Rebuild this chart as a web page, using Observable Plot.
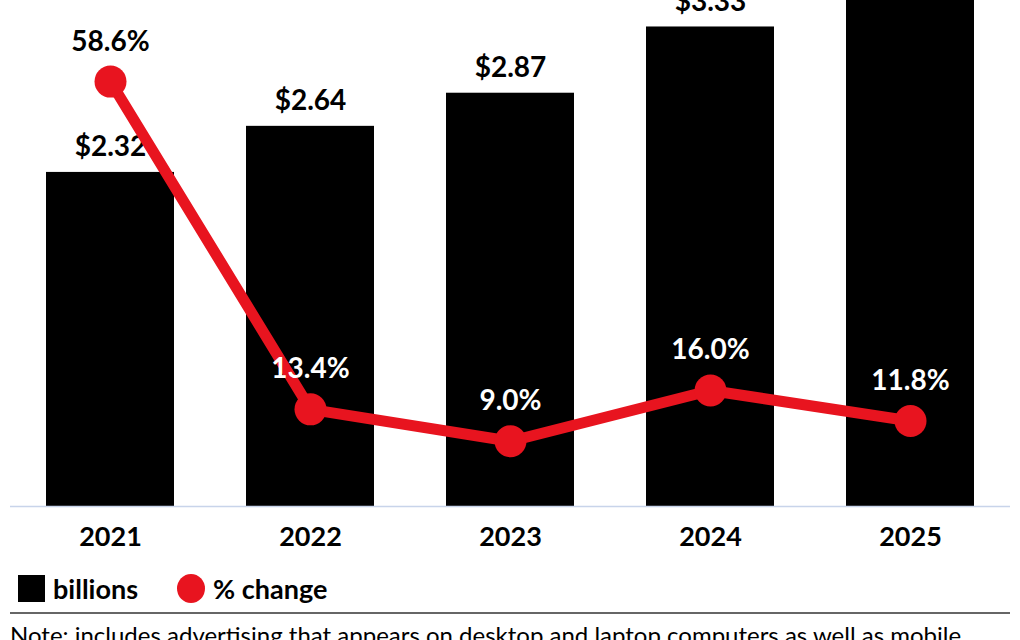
<!DOCTYPE html>
<html>
<head>
<meta charset="utf-8">
<script src="https://cdn.jsdelivr.net/npm/d3@7"></script>
<script src="https://cdn.jsdelivr.net/npm/@observablehq/plot@0.6"></script>
<style>
  html, body { margin: 0; padding: 0; background: #fff; }
  body { width: 1020px; height: 640px; overflow: hidden; font-family: Lato, "Open Sans", sans-serif; }
  #chart svg { display: block; }
  .legend { display: flex; align-items: center; height: 30px; margin-top: 13px; padding-left: 18px; font-family: Lato, sans-serif; font-weight: 700; font-size: 27px; color: #000; }
  .legend .sw { width: 27px; height: 27px; background: #000; margin-right: 8px; }
  .legend .dot { width: 28px; height: 29px; border-radius: 50%; background: #e8141f; margin-left: 39px; margin-right: 8px; }
  .rule { margin: 9px 10px 0 10px; height: 2px; background: #666; }
  .note { padding: 6px 0 0 10px; font-family: Lato, sans-serif; font-size: 24px; color: #000; white-space: nowrap; }
</style>
</head>
<body>
<div id="chart"></div>
<div class="legend"><span class="sw"></span><span>billions</span><span class="dot"></span><span>% change</span></div>
<div class="rule"></div>
<div class="note">Note: includes advertising that appears on desktop and laptop computers as well as mobile</div>
<script>
const years = ["2021", "2022", "2023", "2024", "2025"];
const billions = [2.32, 2.64, 2.87, 3.33, 3.72];
const pctChange = [58.6, 13.4, 9.0, 16.0, 11.8];
const barLabels = ["$2.32", "$2.64", "$2.87", "$3.33", "$3.72"];
const pctLabels = ["58.6%", "13.4%", "9.0%", "16.0%", "11.8%"];

// percent values share the bars' vertical scale on the reference (≈19.9% per $1)
const PCT_PER_DOLLAR = 19.86;
const data = years.map((y, i) => ({
  year: y, value: billions[i], pct: pctChange[i],
  pctY: pctChange[i] / PCT_PER_DOLLAR,
  barLabel: barLabels[i], pctLabel: pctLabels[i],
  // label contrast: on white above the bar -> black, over the bar -> white
  pctFill: (pctChange[i] / PCT_PER_DOLLAR) + 40 / 144 > billions[i] ? "#000" : "#fff"
}));

const W = 1020, H = 560, MB = 54;
const plot = Plot.plot({
  width: W, height: H,
  marginTop: 0, marginBottom: MB, marginLeft: 10, marginRight: 10,
  style: { fontFamily: "Lato, sans-serif", background: "#fff", overflow: "hidden" },
  x: { domain: years, paddingInner: 0.36, paddingOuter: 0.18, label: null },
  y: { domain: [0, (H - MB) / 144], axis: null },
  marks: [
    Plot.barY(data, { x: "year", y: "value", fill: "#000", clip: true }),
    Plot.ruleY([0], { stroke: "#c8d4ea", strokeWidth: 1.5 }),
    Plot.text(data, { x: "year", y: "value", text: "barLabel", dy: -25, fill: "#000", fontSize: 28, fontWeight: 700, clip: true }),
    Plot.line(data, { x: "year", y: "pctY", stroke: "#e8141f", strokeWidth: 11 }),
    Plot.dot(data, { x: "year", y: "pctY", r: 16, fill: "#e8141f" }),
    Plot.text(data, { x: "year", y: "pctY", text: "pctLabel", dy: -40, fill: "pctFill", fontSize: 28, fontWeight: 700 }),
    Plot.axisX({ tickSize: 0, tickPadding: 20, fontSize: 27, fontWeight: 700, fill: "#000", fontFamily: "Lato, sans-serif", label: null })
  ]
});
document.getElementById("chart").appendChild(plot);
</script>
</body>
</html>
